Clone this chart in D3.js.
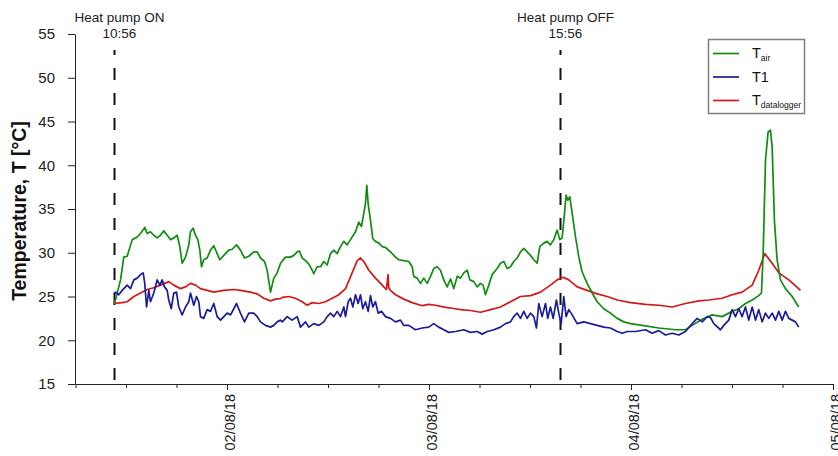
<!DOCTYPE html>
<html>
<head>
<meta charset="utf-8">
<script src="https://cdn.jsdelivr.net/npm/d3@7"></script>
<style>
	body { margin: 0; background: #fff; }
	svg { display: block; font-family: "Liberation Sans", Arial, sans-serif; }
</style>
</head>
<body>
<script>
//hours are counted from 01/08/18 00:00
var tairHours = [10.55,10.75,11.35,11.74,12.14,12.74,13.33,13.72,14.23,14.52,14.91,15.3,15.7,16.1,16.49,16.89,17.29,17.68,18.08,18.39,18.67,19.07,19.46,19.66,19.98,20.26,20.53,20.77,20.97,21.24,21.64,22.04,22.43,22.83,23.14,23.62,24.21,24.62,25.13,25.6,26.08,26.59,27.18,27.59,27.98,28.46,28.77,29.17,29.56,29.96,30.36,30.95,31.54,31.94,32.34,32.61,32.93,33.33,33.72,34.12,34.31,34.71,35.11,35.5,35.9,36.3,36.69,37.09,37.48,37.88,38.28,38.67,39.27,39.66,39.98,40.25,40.45,40.61,40.77,41.05,41.32,41.64,42.04,42.44,42.83,43.42,44.02,44.41,45.0,45.6,46.0,46.19,46.59,46.99,47.38,47.78,48.18,48.57,48.97,49.36,49.76,50.16,50.55,50.95,51.35,51.74,52.13,52.54,52.85,53.32,53.73,54.12,54.43,54.71,55.1,55.5,56.1,56.49,56.89,57.29,57.68,58.07,58.48,58.87,59.26,59.66,60.06,60.45,60.85,61.16,61.64,62.03,62.43,62.83,63.22,63.54,63.82,64.1,64.29,64.49,64.73,65.01,65.41,65.8,66.2,66.79,67.39,67.98,68.77,69.56,70.36,71.14,71.94,73.33,75.3,77.29,78.47,79.27,80.46,81.64,82.83,84.02,84.81,85.6,86.4,87.18,87.5,87.7,87.98,88.29,88.57,88.77,89.04,89.36,89.76,90.35,91.15,91.93];
var tairValues = [24.3,24.6,26.9,29.5,29.6,31.5,31.8,32.2,32.9,32.2,32.4,32.0,31.7,32.0,32.5,32.0,31.5,31.7,32.0,30.7,28.8,29.5,30.9,32.4,32.8,32.0,31.5,30.3,28.4,29.2,29.4,30.3,30.8,29.9,29.2,29.7,30.3,30.4,30.9,30.3,29.4,29.6,30.1,30.1,29.4,29.0,28.0,25.5,27.1,27.7,28.8,29.5,29.5,29.7,30.1,30.2,29.4,29.1,28.7,28.0,27.6,28.4,28.4,29.0,28.6,29.9,30.3,29.9,30.7,31.3,30.9,31.5,32.4,33.5,33.0,34.5,35.6,37.7,35.6,33.7,31.6,31.3,31.1,30.7,30.6,30.1,29.5,29.2,29.1,29.0,28.4,27.3,27.1,26.5,27.1,26.5,27.3,28.2,28.4,28.0,26.9,26.1,27.0,25.9,27.3,27.1,27.7,28.0,26.9,26.7,26.1,26.5,26.3,25.2,26.3,27.5,28.2,28.8,29.0,28.2,28.4,29.0,29.4,30.1,30.5,30.1,29.7,29.2,28.8,30.7,31.1,31.3,30.9,31.5,32.6,31.5,31.7,34.5,36.6,36.0,36.4,34.5,31.8,29.5,27.8,26.5,25.4,24.4,23.6,23.1,22.5,22.1,21.9,21.7,21.4,21.2,21.2,21.7,22.4,22.9,22.7,23.3,23.6,24.2,24.6,25.1,25.4,29.9,40.6,43.8,44.0,42.1,33.7,29.2,26.9,25.9,25.0,23.8];

var t1Hours = [10.55,10.75,11.14,11.55,12.14,12.53,12.93,13.33,13.72,14.04,14.23,14.44,14.71,14.91,15.3,15.7,16.02,16.3,16.57,16.89,17.08,17.37,17.68,18.0,18.27,18.67,19.07,19.46,19.66,20.05,20.38,20.65,20.85,21.24,21.64,22.04,22.43,22.83,23.23,23.62,24.02,24.42,24.81,25.13,25.6,26.08,26.59,27.18,27.59,27.98,28.57,29.17,29.56,29.96,30.36,30.56,31.15,31.74,32.34,32.73,33.33,33.72,34.31,34.91,35.5,35.9,36.3,36.69,37.09,37.48,37.88,38.08,38.4,38.67,38.95,39.27,39.58,39.86,40.13,40.45,40.77,41.05,41.32,41.64,41.96,42.36,42.83,43.42,44.02,44.61,45.0,45.6,46.39,47.19,47.97,48.57,49.16,49.76,50.35,51.15,52.13,52.93,53.73,54.32,54.91,55.7,56.49,57.09,57.68,58.07,58.48,58.87,59.26,59.66,60.06,60.45,60.77,61.04,61.44,61.84,62.11,62.43,62.75,63.14,63.42,63.7,64.01,64.29,64.61,65.01,65.6,66.39,67.19,67.98,68.77,69.56,70.36,70.95,71.54,72.53,73.72,74.51,75.3,76.1,76.89,77.68,78.47,79.27,79.86,80.46,81.05,81.44,81.84,82.63,83.02,83.62,84.02,84.41,84.81,85.2,85.6,85.99,86.4,86.79,87.18,87.58,87.98,88.37,88.77,89.17,89.56,89.96,90.35,90.75,91.15,91.54,91.93];
var t1Values = [25.3,25.5,25.2,25.7,26.3,25.9,26.9,27.1,27.5,27.7,26.5,23.8,25.7,24.4,25.4,26.9,26.3,26.9,26.1,25.7,24.6,23.6,25.4,25.5,23.8,22.9,23.8,24.4,25.4,24.0,25.0,24.4,22.7,22.5,23.5,23.3,24.2,22.7,22.3,22.7,23.1,22.9,23.6,24.2,23.1,22.1,23.1,23.1,22.7,22.1,21.7,21.5,21.7,22.1,22.3,22.1,22.7,22.3,22.7,21.5,22.1,21.5,21.9,21.7,22.1,22.7,23.1,22.7,23.3,22.7,23.8,22.7,24.4,24.8,23.8,25.2,24.2,25.2,23.6,24.4,23.3,25.1,23.8,24.4,23.1,23.3,22.7,22.5,22.1,22.3,21.7,21.7,21.2,21.4,21.5,21.9,21.5,21.2,20.9,21.0,21.2,20.9,21.0,20.7,21.0,21.2,21.5,21.9,22.1,22.7,23.1,22.5,23.3,22.5,23.1,22.7,21.4,24.2,22.7,24.2,22.5,23.8,22.5,24.6,23.1,21.9,25.0,22.7,23.5,22.9,21.9,22.1,21.9,21.7,21.5,21.4,21.0,20.8,21.0,21.0,21.2,20.8,21.1,20.6,20.8,20.6,21.0,21.9,22.5,22.1,22.7,22.6,21.9,21.2,21.7,22.3,23.5,22.7,23.6,22.7,23.8,22.3,23.8,22.3,23.5,22.1,23.1,22.5,23.1,22.3,23.3,22.3,23.3,22.5,22.3,22.1,21.5];

var tdlHours = [10.55,11.5,12.14,12.93,13.72,14.52,15.3,16.1,17.08,17.68,18.47,19.07,19.66,20.26,20.85,21.64,22.43,23.62,24.81,25.6,26.79,27.59,28.37,29.17,29.76,30.36,30.56,31.34,32.14,32.93,33.53,34.12,34.91,35.7,36.5,37.28,38.08,38.87,39.47,39.86,40.25,40.85,41.64,42.24,42.83,42.95,43.07,43.13,43.22,43.42,44.02,45.0,46.0,47.19,47.97,48.77,49.96,51.15,51.74,52.93,54.12,55.31,56.49,57.68,58.87,60.06,61.25,62.43,63.22,63.94,64.61,65.6,66.79,67.98,69.17,70.36,71.94,73.72,75.3,76.89,78.47,80.06,81.25,82.83,84.02,85.2,86.4,87.18,87.89,88.77,89.56,90.75,92.14];
var tdlValues = [24.2,24.3,24.4,25.0,25.4,25.8,26.0,26.3,26.7,26.3,25.9,26.1,26.5,26.3,25.9,25.7,25.5,25.7,25.8,25.7,25.5,25.3,24.8,24.5,24.7,24.75,24.9,25.0,24.8,24.4,24.0,24.3,24.2,24.4,24.8,25.2,25.9,27.7,29.1,29.4,29.0,28.0,27.1,26.5,25.9,25.8,27.0,27.5,26.0,25.7,25.2,24.7,24.3,23.95,24.1,24.0,23.75,23.6,23.5,23.4,23.2,23.5,23.8,24.4,25.0,25.1,25.5,26.3,26.9,27.2,26.9,26.1,25.7,25.3,25.0,24.6,24.3,24.1,24.0,23.8,24.2,24.5,24.6,24.8,25.2,25.5,26.3,28.0,29.9,28.8,27.7,26.9,25.7];

var yTicks = [15, 20, 25, 30, 35, 40, 45, 50, 55];
var eventHours = [10.55, 63.62];
var eventTitles = ["Heat pump ON", "Heat pump OFF"];
var eventTimes = ["10:56", "15:56"];

var seriesNames = ["air", "1", "datalogger"];
var seriesColors = ["#118c11", "#1c1c99", "#d41818"];

(function () {
	var width = 838, height = 456;
	var base = new Date(2018, 7, 1);
	function toDate(h) { return new Date(base.getTime() + h * 3600e3); }

	var svg = d3.select("body").append("svg")
		.attr("width", width)
		.attr("height", height);

	var x = d3.scaleTime()
		.domain([toDate(6), toDate(96)])
		.range([75.5, 833]);
	var y = d3.scaleLinear()
		.domain([15, 55])
		.range([384, 34]);

	//x axis with 6-hour ticks, longer at midnight
	var xTicks = d3.timeHour.every(6).range(toDate(6), toDate(96.01));
	var xAxis = svg.append("g")
		.attr("transform", "translate(0,384)")
		.call(d3.axisBottom(x).tickValues(xTicks).tickFormat("").tickSizeOuter(0));
	xAxis.selectAll(".tick line")
		.attr("y2", function (d) { return d.getHours() === 0 ? 6 : 4; });
	xAxis.select(".domain").attr("stroke", "#222");
	xAxis.selectAll(".tick line").attr("stroke", "#222");

	var midnights = xTicks.filter(function (d) { return d.getHours() === 0; });
	svg.append("g").selectAll("text")
		.data(midnights)
		.enter()
		.append("text")
		.attr("transform", function (d) { return "translate(" + (x(d) + 7.5) + ",394) rotate(-90)"; })
		.attr("text-anchor", "end")
		.attr("font-size", 14.5)
		.attr("fill", "#222")
		.text(d3.timeFormat("%d/%m/%y"));

	//y axis
	var yAxis = svg.append("g")
		.attr("transform", "translate(75,0)")
		.call(d3.axisLeft(y).tickValues(yTicks).tickSize(7).tickSizeOuter(0).tickPadding(13));
	yAxis.selectAll("text").attr("font-size", 15).attr("fill", "#222")
		.attr("font-family", "'Liberation Sans', Arial, sans-serif");
	yAxis.selectAll("line, .domain").attr("stroke", "#222");

	svg.append("text")
		.attr("transform", "translate(26,211) rotate(-90)")
		.attr("text-anchor", "middle")
		.attr("font-size", 19.5)
		.attr("font-weight", "bold")
		.attr("fill", "#111")
		.text("Temperature, T [°C]");

	//heat pump on / off markers
	eventHours.forEach(function (h, i) {
		var ex = Math.round(x(toDate(h))) + 0.5;
		svg.append("line")
			.attr("x1", ex).attr("x2", ex)
			.attr("y1", 50).attr("y2", 384)
			.attr("stroke", "#111")
			.attr("stroke-width", 2)
			.attr("stroke-dasharray", "12,13")
			.attr("stroke-dashoffset", 7);
		svg.append("text")
			.attr("x", ex + 5).attr("y", 22)
			.attr("text-anchor", "middle")
			.attr("font-size", 13.5)
			.attr("fill", "#222")
			.text(eventTitles[i]);
		svg.append("text")
			.attr("x", ex + 5).attr("y", 38)
			.attr("text-anchor", "middle")
			.attr("font-size", 13.5)
			.attr("fill", "#222")
			.text(eventTimes[i]);
	});

	//temperature lines
	var line = d3.line()
		.x(function (d) { return x(toDate(d[0])); })
		.y(function (d) { return y(d[1]); });

	var series = [
		d3.zip(tdlHours, tdlValues),
		d3.zip(tairHours, tairValues),
		d3.zip(t1Hours, t1Values)
	];
	var order = [2, 0, 1];
	series.forEach(function (s, i) {
		svg.append("path")
			.datum(s)
			.attr("fill", "none")
			.attr("stroke", seriesColors[order[i]])
			.attr("stroke-width", 1.7)
			.attr("stroke-linejoin", "round")
			.attr("d", line);
	});

	//legend
	var legend = svg.append("g");
	legend.append("rect")
		.attr("x", 708.5).attr("y", 39.5)
		.attr("width", 96).attr("height", 74)
		.attr("fill", "#fff")
		.attr("stroke", "#808080")
		.attr("stroke-width", 1.5);
	seriesNames.forEach(function (name, i) {
		var ly = 53.5 + i * 23.5;
		legend.append("line")
			.attr("x1", 713).attr("x2", 739)
			.attr("y1", ly).attr("y2", ly)
			.attr("stroke", seriesColors[i])
			.attr("stroke-width", 1.7);
		var t = legend.append("text")
			.attr("x", 752).attr("y", ly + 4.5)
			.attr("font-size", 14.5)
			.attr("fill", "#111");
		t.append("tspan").text("T");
		if (name === "1") {
			t.append("tspan").text("1");
		} else {
			t.append("tspan")
				.attr("dy", 2.5)
				.attr("font-size", 8.5)
				.text(name);
		}
	});
})();
</script>
</body>
</html>
